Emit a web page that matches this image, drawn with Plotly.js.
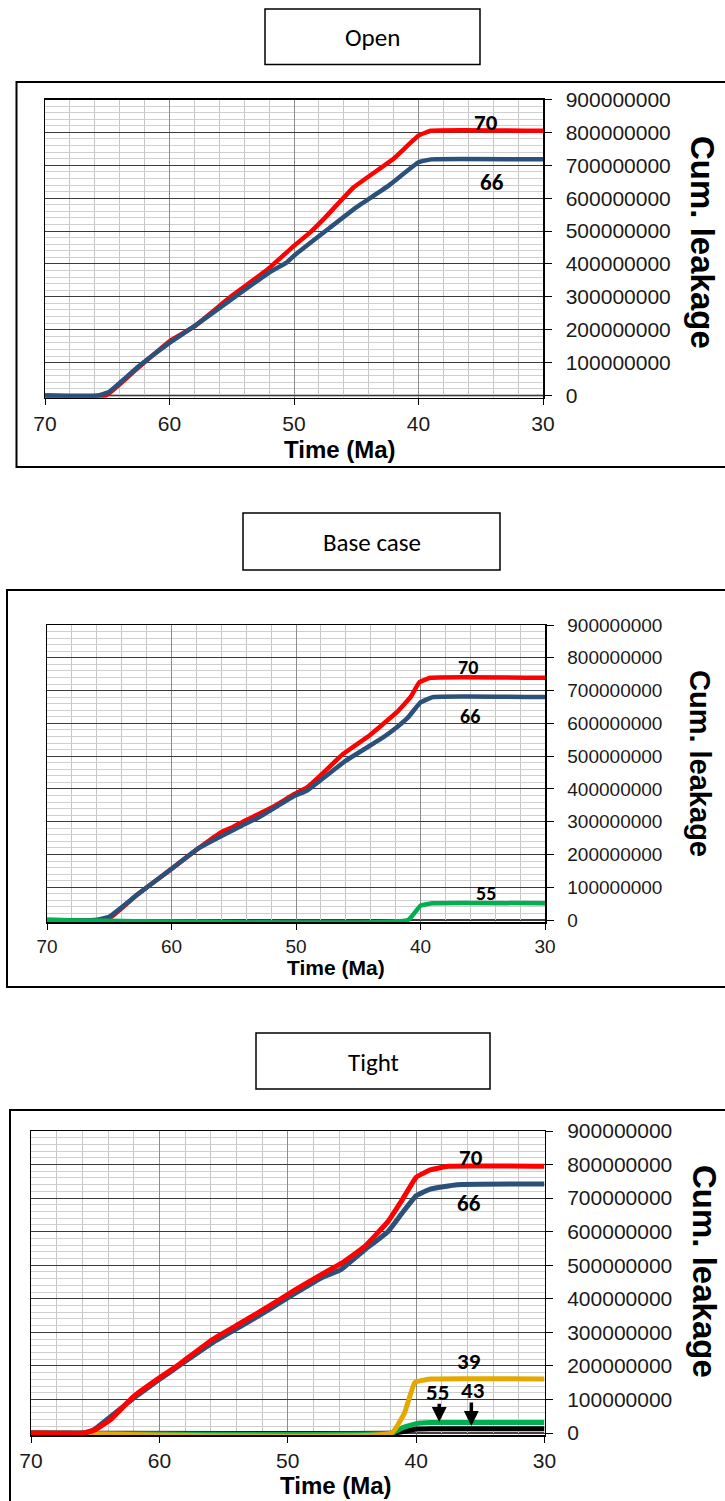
<!DOCTYPE html>
<html>
<head>
<meta charset="utf-8">
<script src="https://cdn.plot.ly/plotly-3.0.1.min.js"></script>
<style>
  html, body { margin: 0; padding: 0; background: #ffffff; }
  #chart { width: 725px; height: 1501px; }
</style>
</head>
<body>
<div id="chart"></div>
<script>
// ---------------- DATA ----------------
const panelTitles = ["Open", "Base case", "Tight"];
const xTitle = "Time (Ma)";
const yTitle = "Cum. leakage";

// Open
const openT70 = [70, 65.1, 62.5, 60, 58, 55, 52.1, 50, 48.7, 47.6, 45.2, 42, 40, 39, 30];
const openV70 = [0, 0, 85e6, 165e6, 210e6, 303e6, 384e6, 455e6, 496e6, 537e6, 633e6, 720e6, 790e6, 805e6, 805e6];
const openT66 = [70, 65.8, 64.9, 62.5, 60, 58, 55, 52, 50.6, 50, 47.6, 45, 42.4, 40, 39, 30];
const openV66 = [0, 0, 10e6, 88e6, 160e6, 211e6, 293e6, 374e6, 404e6, 425e6, 496e6, 572e6, 638e6, 709e6, 718e6, 718e6];

// Base case
const baseT70 = [70, 66, 64.9, 62.7, 60, 57.9, 56, 55.1, 54.1, 51.9, 50.1, 49.1, 47.9, 46.2, 44.1, 43, 41.9, 40.8, 40.1, 39.2, 30];
const baseV70 = [0, 0, 8e6, 79e6, 156e6, 217e6, 268e6, 283e6, 303e6, 344e6, 385e6, 405e6, 446e6, 507e6, 563e6, 598e6, 634e6, 680e6, 725e6, 739e6, 739e6];
const baseT66 = [70, 66, 65, 62.7, 60, 57.9, 54.1, 53, 50.1, 49.1, 47.9, 46, 43, 41.9, 41, 40, 39, 30];
const baseV66 = [0, 0, 10e6, 79e6, 156e6, 217e6, 293e6, 313e6, 379e6, 395e6, 430e6, 486e6, 557e6, 588e6, 618e6, 664e6, 680e6, 680e6];
const baseT55 = [70, 41, 40, 39, 30];
const baseV55 = [0, 0, 44e6, 51e6, 51e6];

// Tight
const tightT70 = [70, 65.9, 65, 63.8, 62, 60.2, 58.7, 58, 55.9, 53.7, 51.5, 49.4, 47.2, 45.8, 44, 42.2, 41.1, 40, 38.9, 37.5, 30];
const tightV70 = [0, 0, 10e6, 40e6, 109e6, 159e6, 198e6, 218e6, 278e6, 327e6, 377e6, 427e6, 476e6, 506e6, 556e6, 630e6, 694e6, 762e6, 784e6, 795e6, 795e6];
const tightT66 = [70, 65.8, 65.2, 62, 60.2, 58, 55.9, 53.7, 51.5, 49.4, 47.2, 45.9, 44, 42.2, 41.1, 40, 38.9, 36.8, 30];
const tightV66 = [0, 0, 7e6, 104e6, 154e6, 213e6, 268e6, 317e6, 367e6, 417e6, 466e6, 486e6, 546e6, 600e6, 655e6, 707e6, 727e6, 740e6, 742e6];
const tightT39 = [70, 41.9, 40.9, 40.1, 38.9, 30];
const tightV39 = [0, 0, 60e6, 151e6, 161e6, 161e6];
const tightT55 = [70, 41.9, 41.1, 40, 38.9, 30];
const tightV55 = [0, 0, 15e6, 28e6, 31e6, 31e6];
const tightT43 = [70, 41.7, 40.9, 40, 38.9, 30];
const tightV43 = [0, 0, 5e6, 12e6, 13e6, 13e6];

// curve labels (text, x in Ma, y value)
const openLabels  = [["70", 34.6, 832e6], ["66", 34.1, 650e6]];
const baseLabels  = [["70", 36.2, 771e6], ["66", 36.05, 621e6], ["55", 34.75, 83e6]];
const tightLabels = [["70", 35.7, 823e6], ["66", 35.9, 684e6], ["39", 35.9, 214e6], ["55", 38.3, 122e6], ["43", 35.6, 128e6]];
// arrows in Tight panel: [x (Ma), tail value, tip value]
const tightArrows = [[38.2, 92e6, 33e6], [35.7, 95e6, 21e6]];

const xTickVals = [70, 60, 50, 40, 30];
const yTickVals = [0, 1e8, 2e8, 3e8, 4e8, 5e8, 6e8, 7e8, 8e8, 9e8];

// ---------------- STYLE / LAYOUT ----------------
const W = 725, H = 1501;
const fx = p => p / W;
const fy = p => 1 - p / H;
const YPAD = 7e6; // small room below zero so zero-level lines are not clipped

const RED = "#FF0000", BLUE = "#2B5079", GREEN = "#00B050", GOLD = "#E3A900", BLACK = "#000000";
const TICKFONT = "Liberation Sans, Arial, sans-serif";
const LABFONT = "Carlito, Lato, sans-serif";

const panels = [
  { plot: {l: 45, r: 543, t: 99.5, b: 395.5}, frame: {l: 16.5, t: 82, b: 467}, box: {l: 265, r: 480, t: 9, b: 64.5},
    tick: 21, xt: 24, xtX: 340, xtY: 449, cum: 33, cumX: 703, cumY: 242, lab: 23, lw: 4.5,
    series: [[openT70, openV70, RED], [openT66, openV66, BLUE]], labels: openLabels, arrows: [] },
  { plot: {l: 47, r: 545, t: 625, b: 920}, frame: {l: 7, t: 590, b: 987}, box: {l: 243, r: 500, t: 513, b: 570},
    tick: 19, xt: 21, xtX: 336, xtY: 968, cum: 29, cumX: 700, cumY: 763, lab: 20, lw: 4.5,
    series: [[baseT70, baseV70, RED], [baseT66, baseV66, BLUE], [baseT55, baseV55, GREEN]], labels: baseLabels, arrows: [] },
  { plot: {l: 31, r: 544.5, t: 1131, b: 1433}, frame: {l: 10, t: 1110, b: 1520}, box: {l: 256, r: 490, t: 1033, b: 1089},
    tick: 21, xt: 24, xtX: 336, xtY: 1485, cum: 33, cumX: 705, cumY: 1271, lab: 23, lw: 5,
    series: [[tightT43, tightV43, BLACK], [tightT55, tightV55, GREEN], [tightT39, tightV39, GOLD], [tightT66, tightV66, BLUE], [tightT70, tightV70, RED]],
    labels: tightLabels, arrows: tightArrows }
];

const data = [];
const layout = {
  width: W, height: H,
  margin: {l: 0, r: 0, t: 0, b: 0},
  paper_bgcolor: "#ffffff", plot_bgcolor: "#ffffff",
  showlegend: false,
  shapes: [], annotations: []
};

panels.forEach((p, i) => {
  const n = i + 1;
  const xa = "xaxis" + (n === 1 ? "" : n), ya = "yaxis" + (n === 1 ? "" : n);
  const xr = "x" + (n === 1 ? "" : n), yr = "y" + (n === 1 ? "" : n);
  const pxPerUnit = (p.plot.b - p.plot.t) / 9e8;
  const bottom = p.plot.b + YPAD * pxPerUnit;

  layout[xa] = {
    domain: [fx(p.plot.l), fx(p.plot.r)], anchor: yr,
    range: [70, 30], tickvals: xTickVals, ticktext: xTickVals.map(String),
    ticks: "outside", ticklen: 6, tickwidth: 1, tickcolor: "#000",
    showline: true, linecolor: "#000", linewidth: 1.5, mirror: true,
    showgrid: true, gridcolor: "#8c8c8c", gridwidth: 1,
    minor: {dtick: 2, tick0: 30, showgrid: true, gridcolor: "#c6c6c6", gridwidth: 1},
    zeroline: false, fixedrange: true,
    tickfont: {family: TICKFONT, size: p.tick, color: "#1a1a1a"}
  };
  layout[ya] = {
    domain: [fy(bottom), fy(p.plot.t)], anchor: xr, side: "right",
    range: [-YPAD, 9e8], tickvals: yTickVals, ticktext: yTickVals.map(v => String(v)),
    ticks: "outside", ticklen: 7, tickwidth: 1, tickcolor: "#000",
    ticklabelstandoff: 10,
    showline: true, linecolor: "#000", linewidth: 1.5, mirror: true,
    showgrid: true, gridcolor: "#3c3c3c", gridwidth: 1,
    minor: {dtick: 2e7, tick0: 0, showgrid: true, gridcolor: "#cfcfcf", gridwidth: 1},
    zeroline: false, fixedrange: true,
    tickfont: {family: TICKFONT, size: p.tick, color: "#1a1a1a"}
  };

  // black axis line at zero level (under the curves)
  layout.shapes.push({type: "line", xref: xr, yref: yr, x0: 70, x1: 30, y0: 0, y1: 0,
    line: {color: "#000", width: 1.5}, layer: "below"});

  p.series.forEach(s => {
    data.push({
      type: "scatter", mode: "lines", x: s[0], y: s[1], xaxis: xr, yaxis: yr,
      line: {color: s[2], width: p.lw, shape: "spline", smoothing: 0.3},
      hoverinfo: "skip"
    });
  });

  // outer frame
  layout.shapes.push({type: "rect", xref: "paper", yref: "paper",
    x0: fx(p.frame.l), x1: fx(740), y0: fy(p.frame.b), y1: fy(p.frame.t),
    line: {color: "#000", width: 2}, fillcolor: "rgba(0,0,0,0)", layer: "below"});
  // title box
  layout.shapes.push({type: "rect", xref: "paper", yref: "paper",
    x0: fx(p.box.l), x1: fx(p.box.r), y0: fy(p.box.b), y1: fy(p.box.t),
    line: {color: "#000", width: 1.5}, fillcolor: "#ffffff"});
  layout.annotations.push({xref: "paper", yref: "paper",
    x: fx((p.box.l + p.box.r) / 2), y: fy((p.box.t + p.box.b) / 2 + 1),
    xanchor: "center", yanchor: "middle", showarrow: false,
    text: panelTitles[i], font: {family: LABFONT, size: 25, color: "#000"}});

  // x title
  layout.annotations.push({xref: "paper", yref: "paper", x: fx(p.xtX), y: fy(p.xtY),
    xanchor: "center", yanchor: "middle", showarrow: false,
    text: "<b>" + xTitle + "</b>", font: {family: TICKFONT, size: p.xt, color: "#000"}});
  // y title (rotated clockwise)
  layout.annotations.push({xref: "paper", yref: "paper", x: fx(p.cumX), y: fy(p.cumY),
    xanchor: "center", yanchor: "middle", showarrow: false, textangle: 90,
    text: "<b>" + yTitle + "</b>", font: {family: TICKFONT, size: p.cum, color: "#000"}});

  // curve labels
  p.labels.forEach(l => {
    layout.annotations.push({xref: xr, yref: yr, x: l[1], y: l[2],
      xanchor: "center", yanchor: "middle", showarrow: false,
      text: "<b>" + l[0] + "</b>", font: {family: LABFONT, size: p.lab, color: "#000"}});
  });
  // arrows
  p.arrows.forEach(a => {
    layout.annotations.push({xref: xr, yref: yr, axref: xr, ayref: yr,
      x: a[0], y: a[2], ax: a[0], ay: a[1], text: "", showarrow: true,
      arrowhead: 2, arrowsize: 0.85, arrowwidth: 3.5, arrowcolor: "#000", standoff: 0});
  });
});

Plotly.newPlot("chart", data, layout, {staticPlot: true, displayModeBar: false});
</script>
</body>
</html>
